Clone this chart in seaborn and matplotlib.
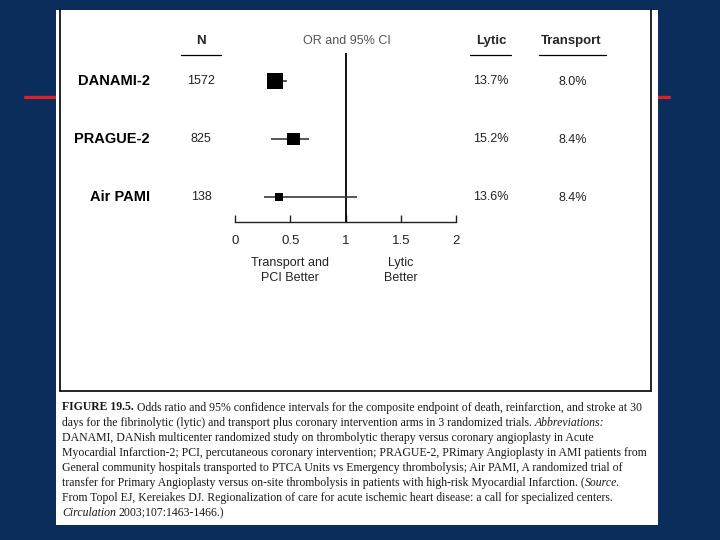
import numpy as np
import pandas as pd
import matplotlib
matplotlib.use("Agg")
import matplotlib.pyplot as plt
import seaborn as sns
from matplotlib import transforms
from matplotlib.lines import Line2D
from matplotlib.patches import Rectangle

# ---------------- data ----------------
studies = ["DANAMI-2", "PRAGUE-2", "Air PAMI"]
n_patients = [1572, 825, 138]
odds_ratio = [0.36, 0.53, 0.40]
ci_low = [0.30, 0.33, 0.26]
ci_high = [0.47, 0.67, 1.10]
lytic_rate = ["13.7%", "15.2%", "13.6%"]
transport_rate = ["8.0%", "8.4%", "8.4%"]
x_ticks = [0, 0.5, 1, 1.5, 2]
x_tick_labels = ["0", "0.5", "1", "1.5", "2"]

caption_lines = [
    [("FIGURE 19.5.", "bold"), ("Odds ratio and 95% confidence intervals for the composite endpoint of death, reinfarction, and stroke at 30", "normal")],
    [("days for the fibrinolytic (lytic) and transport plus coronary intervention arms in 3 randomized trials.", "normal"), ("Abbreviations:", "italic")],
    [("DANAMI, DANish multicenter randomized study on thrombolytic therapy versus coronary angioplasty in Acute", "normal")],
    [("Myocardial Infarction-2; PCI, percutaneous coronary intervention; PRAGUE-2, PRimary Angioplasty in AMI patients from", "normal")],
    [("General community hospitals transported to PTCA Units vs Emergency thrombolysis; Air PAMI, A randomized trial of", "normal")],
    [("transfer for Primary Angioplasty versus on-site thrombolysis in patients with high-risk Myocardial Infarction. (", "normal"), ("Source.", "italic_nospace")],
    [("From Topol EJ, Kereiakes DJ. Regionalization of care for acute ischemic heart disease: a call for specialized centers.", "normal")],
    [("Circulation", "italic"), ("2003;107:1463-1466.)", "normal")],
]

df = pd.DataFrame({"Study": studies, "N": n_patients, "OR": odds_ratio,
                   "lo": ci_low, "hi": ci_high})

# ---------------- figure ----------------
sns.set_theme(style="white")
plt.rcParams["font.family"] = ["Liberation Sans", "DejaVu Sans"]

W, H = 720, 540
fig = plt.figure(figsize=(7.2, 5.4), dpi=100)
BLUE = "#0b2d5c"
fig.patch.set_facecolor(BLUE)

def fx(px):
    return px / W

def fy(py):
    return 1 - py / H

# red decorative rule behind panel
for (x0, x1) in [(25, 57), (657, 669)]:
    fig.add_artist(Line2D([fx(x0), fx(x1)], [fy(98.5), fy(98.5)], color="#3a0d1a", lw=1.6, zorder=-3))
    fig.add_artist(Line2D([fx(x0), fx(x1)], [fy(96.5), fy(96.5)], color="#d9232b", lw=2.4, zorder=-3))

# white panel
fig.add_artist(Rectangle((fx(56), fy(525)), fx(658) - fx(56), fy(10) - fy(525),
                         transform=fig.transFigure, facecolor="white", edgecolor="none",
                         zorder=-2))
# inner figure box
box = dict(color="black", lw=1.2, transform=fig.transFigure, zorder=-1)
fig.add_artist(Line2D([fx(59.5), fx(59.5)], [fy(10), fy(390.5)], **box))
fig.add_artist(Line2D([fx(651), fx(651)], [fy(10), fy(390.5)], **box))
fig.add_artist(Line2D([fx(59.5), fx(651)], [fy(390.5), fy(390.5)], **box))

# forest plot axes: x 0 -> 235px, 2 -> 456px ; axis line at 222px, top 53px
ax = fig.add_axes([fx(235), fy(222), fx(456) - fx(235), fy(53) - fy(222)])
ax.set_facecolor("none")
ax.set_zorder(2)

ypos = np.arange(len(studies))
ax.hlines(ypos, df["lo"], df["hi"], color="#3a3a3a", lw=1.2, zorder=2)
sns.scatterplot(data=df, x="OR", y="Study", size="N", sizes=(36, 135),
                marker="s", color="black", linewidth=0, legend=False,
                ax=ax, zorder=3)
ax.axvline(1, color="black", lw=1.3, zorder=1)

ax.set_xlim(0, 2)
ax.set_ylim(2.43, -0.48)
for s in ["top", "left", "right"]:
    ax.spines[s].set_visible(False)
ax.spines["bottom"].set_color("#222222")
ax.spines["bottom"].set_linewidth(1.0)
ax.set_xticks(x_ticks)
ax.set_xticklabels(x_tick_labels)
ax.tick_params(axis="x", direction="in", length=5, width=1.0, color="#222222",
               pad=9, labelsize=9.5, labelcolor="#222222", bottom=True)
ax.tick_params(axis="y", left=False, labelleft=False)
ax.set_xlabel("")
ax.set_ylabel("")
ax.grid(False)

# row texts
row_tr = transforms.blended_transform_factory(fig.transFigure, ax.transData)
for i, (st, n, ly, tr) in enumerate(zip(studies, n_patients, lytic_rate, transport_rate)):
    ax.text(fx(150), i, st, transform=row_tr, ha="right", va="center",
            fontsize=10.5, fontweight="bold", color="black", clip_on=False)
    ax.text(fx(201), i, str(n), transform=row_tr, ha="center", va="center",
            fontsize=9, color="#222222", clip_on=False)
    ax.text(fx(491), i, ly, transform=row_tr, ha="center", va="center",
            fontsize=9, color="#222222", clip_on=False)
    ax.text(fx(573), i + 0.02, tr, transform=row_tr, ha="center", va="center",
            fontsize=9, color="#222222", clip_on=False)

# headers
fig.text(fx(201), fy(41), "N", ha="center", va="center", fontsize=9.5, fontweight="bold")
fig.text(fx(347), fy(41), "OR and 95% CI", ha="center", va="center", fontsize=9, color="#555555")
fig.text(fx(491), fy(41), "Lytic", ha="center", va="center", fontsize=9.5, fontweight="bold")
fig.text(fx(571), fy(41), "Transport", ha="center", va="center", fontsize=9.5, fontweight="bold")
for (x0, x1) in [(181, 221), (470, 511), (539, 606)]:
    fig.add_artist(Line2D([fx(x0), fx(x1)], [fy(55), fy(55)], color="black", lw=0.9))

# favour labels
lab_tr = transforms.blended_transform_factory(ax.transData, fig.transFigure)
ax.text(0.5, fy(270.5), "Transport and\nPCI Better", transform=lab_tr, ha="center",
        va="center", fontsize=9, linespacing=1.35, color="#222222", clip_on=False)
ax.text(1.5, fy(270.5), "Lytic\nBetter", transform=lab_tr, ha="center",
        va="center", fontsize=9, linespacing=1.35, color="#222222", clip_on=False)

# caption with mixed styles
renderer = fig.canvas.get_renderer()
cap_fam = ["Liberation Serif", "DejaVu Serif"]
cap_size = 8.5
probe1 = fig.text(0, 0, "a a", fontsize=cap_size, family=cap_fam)
probe2 = fig.text(0, 0, "aa", fontsize=cap_size, family=cap_fam)
space_px = probe1.get_window_extent(renderer).width - probe2.get_window_extent(renderer).width
probe1.remove()
probe2.remove()

for li, segs in enumerate(caption_lines):
    y = fy(407 + 15.1 * li + 3.5)
    xpx = 62.0
    for si, (txt, style) in enumerate(segs):
        kw = dict(fontsize=cap_size, family=cap_fam, color="#1a1a1a", va="baseline", ha="left")
        if style == "bold":
            kw["fontweight"] = "bold"
        if style.startswith("italic"):
            kw["fontstyle"] = "italic"
        if si > 0 and style != "italic_nospace":
            xpx += space_px
        t = fig.text(fx(xpx), y, txt, **kw)
        xpx += t.get_window_extent(renderer).width

fig.savefig("out.png", dpi=100, facecolor=fig.get_facecolor())
